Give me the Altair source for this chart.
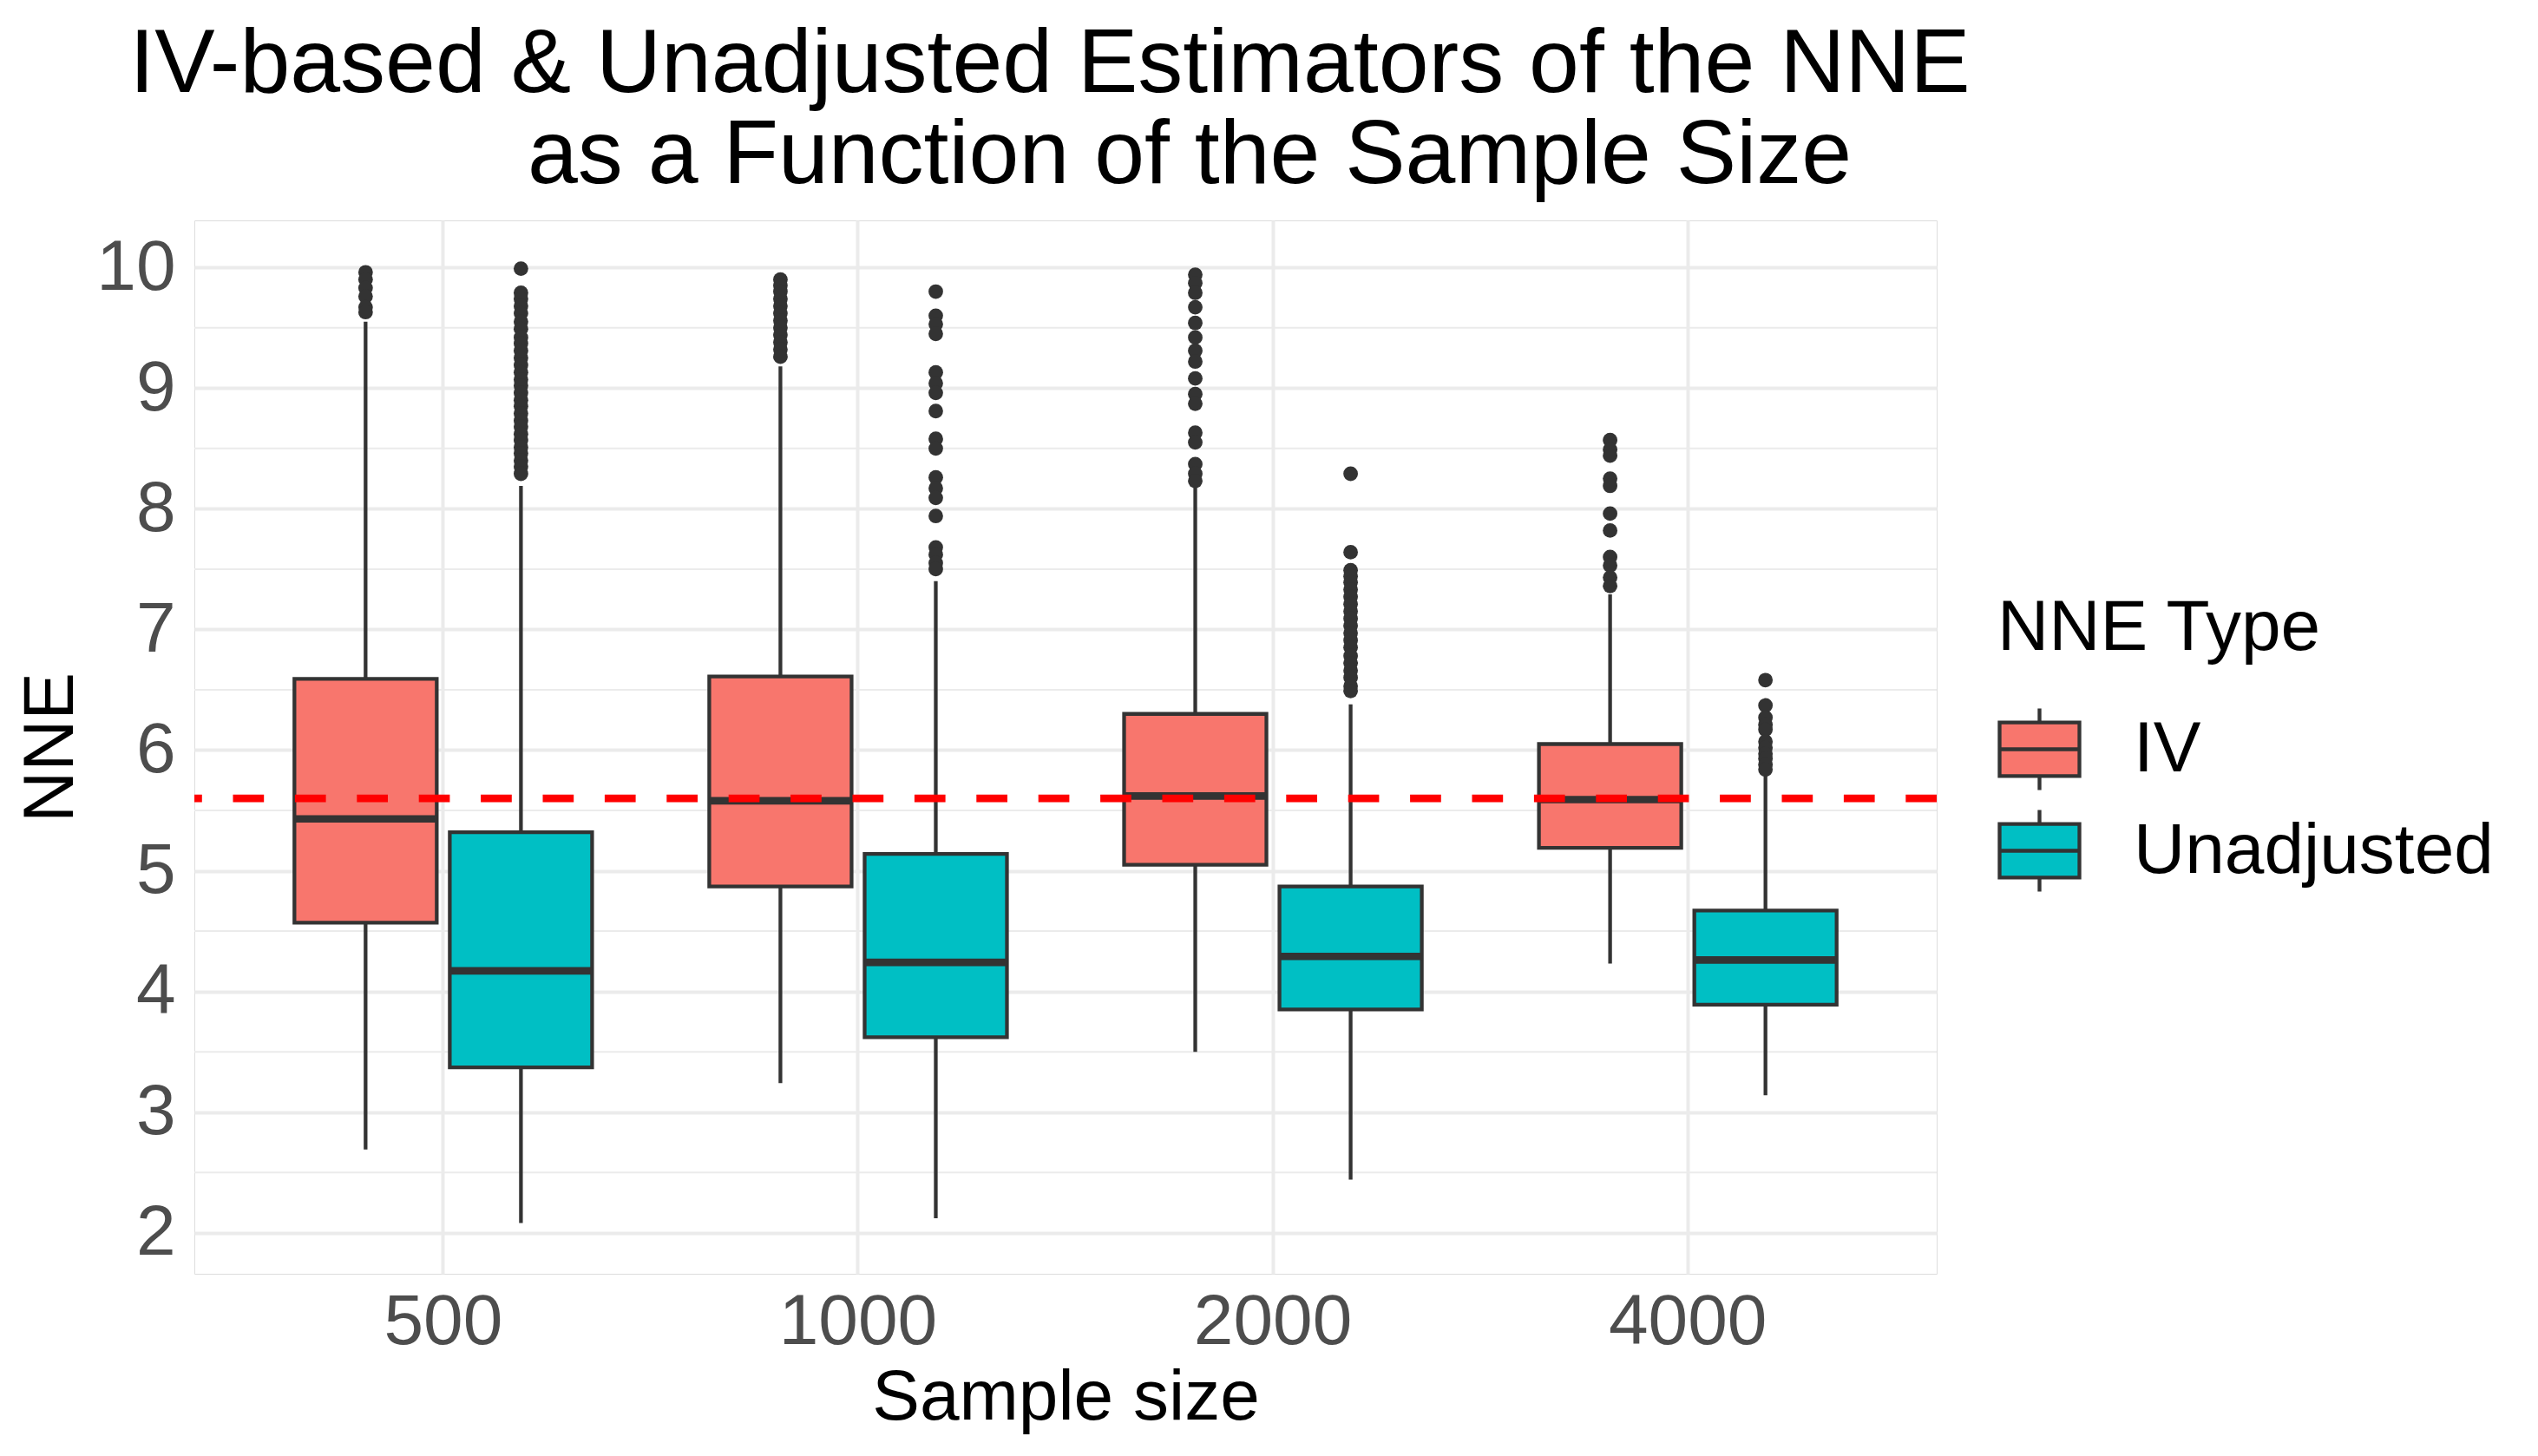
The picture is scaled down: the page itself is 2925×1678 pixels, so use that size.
import altair as alt
import pandas as pd

# ---- data ----
sizes = ["500", "1000", "2000", "4000"]
types = ["IV", "Unadjusted"]

box_size = ["500", "500", "1000", "1000", "2000", "2000", "4000", "4000"]
box_type = ["IV", "Unadjusted"] * 4
q1 = [4.57, 3.37, 4.87, 3.62, 5.05, 3.85, 5.19, 3.89]
med = [5.43, 4.17, 5.58, 4.24, 5.62, 4.29, 5.59, 4.26]
q3 = [6.59, 5.32, 6.61, 5.14, 6.30, 4.87, 6.05, 4.67]
lo = [2.69, 2.08, 3.24, 2.12, 3.50, 2.44, 4.23, 3.14]
hi = [9.55, 8.19, 9.18, 7.40, 8.18, 6.38, 7.29, 5.79]

out_iv_500 = [9.96, 9.90, 9.83, 9.76, 9.67, 9.63]
out_un_500 = [9.99, 9.79, 9.74, 9.68, 9.62, 9.55, 9.49, 9.42, 9.37, 9.31, 9.25, 9.19,
              9.13, 9.07, 9.02, 8.96, 8.90, 8.85, 8.79, 8.73, 8.68, 8.62, 8.57,
              8.51, 8.46, 8.40, 8.35, 8.29]
out_iv_1000 = [9.90, 9.85, 9.80, 9.74, 9.68, 9.62, 9.56, 9.50, 9.44, 9.38, 9.32, 9.26]
out_un_1000 = [9.80, 9.60, 9.53, 9.45, 9.13, 9.04, 8.96, 8.81, 8.58, 8.50, 8.26,
               8.17, 8.09, 7.94, 7.68, 7.62, 7.55, 7.50]
out_iv_2000 = [9.94, 9.87, 9.79, 9.67, 9.54, 9.42, 9.31, 9.22, 9.08, 8.95, 8.87,
               8.63, 8.55, 8.37, 8.29, 8.23]
out_un_2000 = [8.29, 7.64, 7.49, 7.44, 7.39, 7.33, 7.27, 7.21, 7.15, 7.09, 7.03,
               6.97, 6.91, 6.85, 6.78, 6.72, 6.66, 6.60, 6.53, 6.49]
out_iv_4000 = [8.57, 8.49, 8.44, 8.25, 8.19, 7.96, 7.82, 7.60, 7.53, 7.43, 7.36]
out_un_4000 = [6.58, 6.37, 6.27, 6.21, 6.17, 6.07, 6.02, 5.97, 5.93, 5.88, 5.84]

true_nne = [5.6]
minor_breaks = [2.5, 3.5, 4.5, 5.5, 6.5, 7.5, 8.5, 9.5]
major_breaks = [2, 3, 4, 5, 6, 7, 8, 9, 10]

title_lines = ["IV-based & Unadjusted Estimators of the NNE",
               "as a Function of the Sample Size"]

# ---- tables ----
boxes = pd.DataFrame({"n": box_size, "type": box_type, "q1": q1, "med": med,
                      "q3": q3, "lo": lo, "hi": hi})
out_rows = []
for (s, t, vals) in [("500", "IV", out_iv_500), ("500", "Unadjusted", out_un_500),
                     ("1000", "IV", out_iv_1000), ("1000", "Unadjusted", out_un_1000),
                     ("2000", "IV", out_iv_2000), ("2000", "Unadjusted", out_un_2000),
                     ("4000", "IV", out_iv_4000), ("4000", "Unadjusted", out_un_4000)]:
    for v in vals:
        out_rows.append({"n": s, "type": t, "v": v})
outliers = pd.DataFrame(out_rows)
minor_df = pd.DataFrame({"y": minor_breaks})
hline_df = pd.DataFrame({"y": true_nne})

FONT = "Liberation Sans"
YDOM = [1.66, 10.39]

x_enc = alt.X("n:N", sort=sizes, title="Sample size",
              scale=alt.Scale(domain=sizes, paddingInner=0, paddingOuter=0.1),
              axis=alt.Axis(bandPosition=0.5, ticks=False, domain=False,
                            labelFontSize=82, labelColor="#4D4D4D", labelFont=FONT,
                            labelBaseline="alphabetic", labelPadding=80, labelAngle=0,
                            labelLimit=0,
                            grid=True, gridColor="#EBEBEB", gridWidth=4,
                            titleFontSize=82, titleFont=FONT, titleColor="black",
                            titleFontWeight="normal", titleBaseline="alphabetic",
                            titleY=167, titleLimit=0))
xo_enc = alt.XOffset("type:N", sort=types,
                     scale=alt.Scale(domain=types, paddingInner=0.084, paddingOuter=0.377))
y_scale = alt.Scale(domain=YDOM, nice=False, zero=False)

minor = alt.Chart(minor_df).mark_rule(color="#EBEBEB", strokeWidth=2).encode(
    y=alt.Y("y:Q", scale=y_scale)
)

whisk = alt.Chart(boxes).mark_rule(color="#333333", strokeWidth=4.3).encode(
    x=x_enc, xOffset=xo_enc,
    y=alt.Y("lo:Q", scale=y_scale, title="NNE",
            axis=alt.Axis(values=major_breaks, format="d", ticks=False, domain=False,
                          labelFontSize=82, labelColor="#4D4D4D", labelFont=FONT,
                          labelPadding=22, labelLimit=0,
                          grid=True, gridColor="#EBEBEB", gridWidth=4,
                          titleFontSize=82, titleFont=FONT, titleColor="black",
                          titleFontWeight="normal", titleBaseline="alphabetic",
                          titleX=-141, titleY=607, titleLimit=0)),
    y2="hi:Q",
)

legend_path = "M-1,-0.67H1V0.67H-1Z M0,-0.67V-1.02 M0,0.67V1.02 M-1,0H1"
bars = alt.Chart(boxes).mark_bar(stroke="#333333", strokeWidth=4.3, opacity=1).encode(
    x=x_enc, xOffset=xo_enc,
    y=alt.Y("q1:Q", scale=y_scale), y2="q3:Q",
    fill=alt.Fill("type:N", title="NNE Type",
                  scale=alt.Scale(domain=types, range=["#F8766D", "#00BFC4"]),
                  legend=alt.Legend(orient="none", legendX=2078, legendY=430,
                                    symbolType=legend_path, symbolSize=8464,
                                    symbolStrokeColor="#333333", symbolStrokeWidth=4.3,
                                    symbolOpacity=1,
                                    titleFontSize=82, titleFont=FONT, titleColor="black",
                                    titleFontWeight="normal", titlePadding=49,
                                    titleLimit=0,
                                    labelFontSize=82, labelFont=FONT, labelColor="black",
                                    labelOffset=60, labelLimit=0, rowPadding=4,
                                    padding=0)),
)

medians = alt.Chart(boxes).mark_tick(color="#333333", thickness=8.7, size=164,
                                     orient="horizontal", opacity=1).encode(
    x=x_enc, xOffset=xo_enc,
    y=alt.Y("med:Q", scale=y_scale),
)

points = alt.Chart(outliers).mark_circle(color="#333333", size=283, opacity=1).encode(
    x=x_enc, xOffset=xo_enc,
    y=alt.Y("v:Q", scale=y_scale),
)

hline = alt.Chart(hline_df).mark_rule(color="#FF0000", strokeWidth=8.9,
                                      strokeDash=[35.7, 35.7]).encode(
    y=alt.Y("y:Q", scale=y_scale)
)

title1 = alt.Chart(pd.DataFrame({"t": [title_lines[0]]})).mark_text(
    font=FONT, fontSize=104, color="black", align="center", baseline="alphabetic"
).encode(text="t:N", x=alt.value(986), y=alt.value(-148))

title2 = alt.Chart(pd.DataFrame({"t": [title_lines[1]]})).mark_text(
    font=FONT, fontSize=104, color="black", align="center", baseline="alphabetic"
).encode(text="t:N", x=alt.value(1147), y=alt.value(-43))

chart = alt.layer(minor, whisk, bars, medians, points, hline, title1, title2).properties(
    width=2008, height=1214,
    autosize=alt.AutoSizeParams(type="none"),
    padding={"left": 216, "top": 246, "right": 685, "bottom": 200},
).configure_view(stroke=None).configure(background="white")

chart.save("out.html", embed_options={"renderer": "svg", "actions": False})
